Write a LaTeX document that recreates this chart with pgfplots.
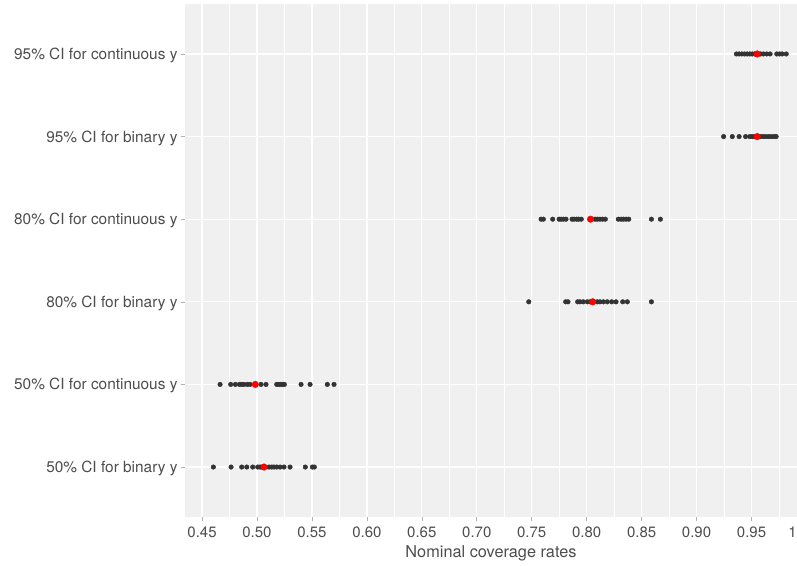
\documentclass[border=0pt]{standalone}
\usepackage{pgfplots}
\pgfplotsset{compat=1.18}
\usepackage{fontspec}
\setmainfont{TeX Gyre Heros}
\definecolor{panelbg}{RGB}{240,240,240}
\definecolor{txtgray}{RGB}{77,77,77}
\definecolor{dotgray}{RGB}{51,51,51}

\begin{document}
\begin{tikzpicture}
\begin{axis}[
  name=ax, at={(0,0)}, anchor=south west,
  scale only axis, width=612pt, height=512.2pt,
  xmin=0.4345, xmax=0.9914, ymin=0.4, ymax=6.6,
  axis background/.style={fill=panelbg},
  axis line style={draw=none},
  xtick pos=bottom, ytick pos=left,
  xtick={0.45,0.50,0.55,0.60,0.65,0.70,0.75,0.80,0.85,0.90,0.95},
  xticklabels={0.45,0.50,0.55,0.60,0.65,0.70,0.75,0.80,0.85,0.90,0.95},
  minor xtick={0.475,0.525,0.575,0.625,0.675,0.725,0.775,0.825,0.875,0.925,0.975},
  extra x ticks={0.9914}, extra x tick labels={1},
  extra x tick style={grid=none, major tick length=0pt,
    xticklabel style={anchor=base east, inner sep=0pt, yshift=-4pt}},
  ytick={1,2,3,4,5,6},
  yticklabels={50\% CI for binary y, 50\% CI for continuous y,
    80\% CI for binary y, 80\% CI for continuous y,
    95\% CI for binary y, 95\% CI for continuous y},
  grid=both,
  major grid style={white, line width=1.3pt},
  minor grid style={white, line width=0.6pt},
  tick align=outside, major tick length=4pt, minor tick length=0pt,
  tick style={gray!60, line width=0.6pt},
  xticklabel style={font=\fontsize{15}{18}\selectfont, text=txtgray,
    anchor=base, inner sep=0pt, yshift=-16.4pt},
  yticklabel style={font=\fontsize{15.4}{18}\selectfont, text=txtgray, yshift=-1.5pt},
  xlabel={Nominal coverage rates},
  xlabel style={font=\fontsize{16.3}{19}\selectfont, text=txtgray, inner sep=1pt,
    at={(axis description cs:0.5,0)}, anchor=base, yshift=-41pt},
]
% individual coverage rates (grey) per interval type
\addplot[only marks, mark=*, mark size=2.3pt, dotgray] coordinates {
  (0.9363,6)(0.9387,6)(0.9412,6)(0.9436,6)(0.9461,6)(0.9485,6)(0.9507,6)(0.9528,6)
  (0.9583,6)(0.9608,6)(0.9638,6)(0.9669,6)(0.9730,6)(0.9755,6)(0.9779,6)(0.9816,6)
};
\addplot[only marks, mark=*, mark size=2.3pt, dotgray] coordinates {
  (0.9246,5)(0.9325,5)(0.9387,5)(0.9446,5)(0.9485,5)(0.9507,5)(0.9528,5)
  (0.9583,5)(0.9608,5)(0.9632,5)(0.9657,5)(0.9681,5)(0.9706,5)(0.9724,5)
};
\addplot[only marks, mark=*, mark size=2.3pt, dotgray] coordinates {
  (0.7585,4)(0.7606,4)(0.7691,4)(0.7749,4)(0.7767,4)(0.7788,4)(0.7812,4)
  (0.7867,4)(0.7885,4)(0.7909,4)(0.7927,4)(0.7951,4)(0.8076,4)(0.8097,4)
  (0.8121,4)(0.8145,4)(0.8170,4)(0.8288,4)(0.8313,4)(0.8334,4)(0.8358,4)
  (0.8383,4)(0.8589,4)(0.8671,4)
};
\addplot[only marks, mark=*, mark size=2.3pt, dotgray] coordinates {
  (0.7473,3)(0.7809,3)(0.7830,3)(0.7918,3)(0.7939,3)(0.7969,3)(0.8006,3)
  (0.8031,3)(0.8097,3)(0.8121,3)(0.8152,3)(0.8188,3)(0.8228,3)(0.8267,3)
  (0.8328,3)(0.8370,3)(0.8589,3)
};
\addplot[only marks, mark=*, mark size=2.3pt, dotgray] coordinates {
  (0.4664,2)(0.4761,2)(0.4803,2)(0.4840,2)(0.4861,2)(0.4882,2)(0.4912,2)
  (0.4937,2)(0.5037,2)(0.5082,2)(0.5180,2)(0.5198,2)(0.5216,2)(0.5234,2)
  (0.5249,2)(0.5401,2)(0.5483,2)(0.5640,2)(0.5701,2)
};
\addplot[only marks, mark=*, mark size=2.3pt, dotgray] coordinates {
  (0.4603,1)(0.4764,1)(0.4861,1)(0.4907,1)(0.4961,1)(0.5007,1)(0.5028,1)
  (0.5046,1)(0.5110,1)(0.5134,1)(0.5155,1)(0.5180,1)(0.5210,1)(0.5246,1)
  (0.5301,1)(0.5440,1)(0.5504,1)(0.5522,1)
};
% mean coverage (red)
\addplot[only marks, mark=*, mark size=3.3pt, red] coordinates {
  (0.9552,6)(0.9552,5)(0.8035,4)(0.8055,3)(0.4985,2)(0.5064,1)
};
\end{axis}
\pgfresetboundingbox
\path[use as bounding box] (-185pt,-48.4pt) rectangle (612pt,516.6pt);
\end{tikzpicture}
\end{document}
